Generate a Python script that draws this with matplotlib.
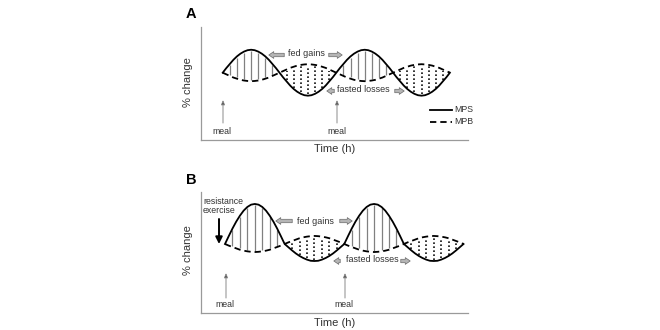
import numpy as np
import matplotlib
matplotlib.use('Agg')
import matplotlib.pyplot as plt
from matplotlib.patches import FancyArrowPatch

plt.rcParams['font.family'] = ['Liberation Sans', 'DejaVu Sans']

W, H = 660, 330

# time grid (arbitrary units, 16 units = one meal cycle)
time_h = np.arange(0, 32.5, 0.5)

# Panel A: muscle protein synthesis / breakdown (% change, schematic)
mps_a = [0, 2.0, 3.8, 5.6, 7.1, 8.3, 9.2, 9.8, 10, 9.8, 9.2, 8.3, 7.1, 5.6, 3.8, 2.0,
         0, -2.0, -3.8, -5.6, -7.1, -8.3, -9.2, -9.8, -10, -9.8, -9.2, -8.3, -7.1, -5.6, -3.8, -2.0,
         0, 2.0, 3.8, 5.6, 7.1, 8.3, 9.2, 9.8, 10, 9.8, 9.2, 8.3, 7.1, 5.6, 3.8, 2.0,
         0, -2.0, -3.8, -5.6, -7.1, -8.3, -9.2, -9.8, -10, -9.8, -9.2, -8.3, -7.1, -5.6, -3.8, -2.0,
         0]
mpb_a = [0, -0.7, -1.4, -2.1, -2.6, -3.1, -3.4, -3.6, -3.7, -3.6, -3.4, -3.1, -2.6, -2.1, -1.4, -0.7,
         0, 0.7, 1.4, 2.1, 2.6, 3.1, 3.4, 3.6, 3.7, 3.6, 3.4, 3.1, 2.6, 2.1, 1.4, 0.7,
         0, -0.7, -1.4, -2.1, -2.6, -3.1, -3.4, -3.6, -3.7, -3.6, -3.4, -3.1, -2.6, -2.1, -1.4, -0.7,
         0, 0.7, 1.4, 2.1, 2.6, 3.1, 3.4, 3.6, 3.7, 3.6, 3.4, 3.1, 2.6, 2.1, 1.4, 0.7,
         0]

# Panel B: with resistance exercise
mps_b = [0, 3.4, 6.7, 9.7, 12.3, 14.5, 16.1, 17.1, 17.4, 17.1, 16.1, 14.5, 12.3, 9.7, 6.7, 3.4,
         0, -1.4, -2.8, -4.1, -5.2, -6.1, -6.8, -7.3, -7.4, -7.3, -6.8, -6.1, -5.2, -4.1, -2.8, -1.4,
         0, 3.4, 6.7, 9.7, 12.3, 14.5, 16.1, 17.1, 17.4, 17.1, 16.1, 14.5, 12.3, 9.7, 6.7, 3.4,
         0, -1.4, -2.8, -4.1, -5.2, -6.1, -6.8, -7.3, -7.4, -7.3, -6.8, -6.1, -5.2, -4.1, -2.8, -1.4,
         0]
mpb_b = [0, -0.7, -1.3, -1.9, -2.5, -2.9, -3.2, -3.4, -3.5, -3.4, -3.2, -2.9, -2.5, -1.9, -1.3, -0.7,
         0, 0.7, 1.3, 1.9, 2.5, 2.9, 3.2, 3.4, 3.5, 3.4, 3.2, 2.9, 2.5, 1.9, 1.3, 0.7,
         0, -0.7, -1.3, -1.9, -2.5, -2.9, -3.2, -3.4, -3.5, -3.4, -3.2, -2.9, -2.5, -1.9, -1.3, -0.7,
         0, 0.7, 1.3, 1.9, 2.5, 2.9, 3.2, 3.4, 3.5, 3.4, 3.2, 2.9, 2.5, 1.9, 1.3, 0.7,
         0]

gain_hatch_t = [1, 2, 3, 4, 5, 6, 7, 17, 18, 19, 20, 21, 22, 23]
loss_hatch_t = [9, 10, 11, 12, 13, 14, 15, 25, 26, 27, 28, 29, 30, 31]

panel_labels = ['A', 'B']
legend_labels = ['MPS', 'MPB']
x_label = 'Time (h)'
y_label = '% change'

fig = plt.figure(figsize=(6.6, 3.3), dpi=100)
TXT = '#333333'


def fpt(px, py):
    return (px / W, 1 - py / H)


def make_axes(left, top, right, bottom, xlim, ylim):
    ax = fig.add_axes([left / W, 1 - bottom / H, (right - left) / W, (bottom - top) / H])
    for s in ['top', 'right']:
        ax.spines[s].set_visible(False)
    for s in ['left', 'bottom']:
        ax.spines[s].set_color('#9a9a9a')
        ax.spines[s].set_linewidth(0.9)
    ax.set_xticks([])
    ax.set_yticks([])
    ax.set_xlim(*xlim)
    ax.set_ylim(*ylim)
    ax.patch.set_alpha(0)
    return ax


def draw_curves(ax, mps, mpb):
    t2i = {float(t): i for i, t in enumerate(time_h)}
    g = 0.6
    for t in gain_hatch_t:
        i = t2i[float(t)]
        ax.vlines(t, mpb[i] + g, mps[i] - g, color='#808080', lw=0.9)
    for t in loss_hatch_t:
        i = t2i[float(t)]
        ax.vlines(t, mps[i] + g, mpb[i] - g, color='#111111', lw=1.2,
                  linestyles=[(0, (1, 1.4))])
    ax.plot(time_h, mps, color='black', lw=1.3, solid_joinstyle='round')
    ax.plot(time_h, mpb, color='black', lw=1.3, linestyle=(0, (3.5, 2.2)))


def block_arrow(x0, x1, y):
    p = FancyArrowPatch(fpt(x0, y), fpt(x1, y), transform=fig.transFigure,
                        arrowstyle='simple,head_length=0.55,head_width=0.75,tail_width=0.38',
                        mutation_scale=6.5, fc='#b5b5b5', ec='#6a6a6a', lw=0.5)
    fig.add_artist(p)


def meal_arrow(x, y0, y1):
    p = FancyArrowPatch(fpt(x, y0), fpt(x, y1), transform=fig.transFigure,
                        arrowstyle='-|>,head_length=2.6,head_width=1.1',
                        mutation_scale=1, fc='#222222', ec='#8a8a8a', lw=0.7,
                        shrinkA=0, shrinkB=0)
    fig.add_artist(p)


def ftext(px, py, s, size, **kw):
    kw.setdefault('ha', 'center')
    kw.setdefault('va', 'center')
    fig.text(*fpt(px, py), s, fontsize=size, color=kw.pop('color', TXT), **kw)


# ---------------- Panel A ----------------
axA = make_axes(201, 27, 468, 140, (-3.06, 34.55), (-29.3, 19.9))
draw_curves(axA, mps_a, mpb_a)
ftext(191, 14, panel_labels[0], 10.5, weight='bold', color='black')
ftext(188, 82, y_label, 8, rotation=90)
ftext(335, 149, x_label, 8)
block_arrow(287, 266, 55)
ftext(306, 54, 'fed gains', 6.5)
block_arrow(326, 345, 55)
block_arrow(337, 324, 91)
ftext(363, 90, 'fasted losses', 6.5)
block_arrow(392, 407, 91)
meal_arrow(223, 123, 100)
meal_arrow(337, 123, 100)
ftext(222, 131, 'meal', 6.3)
ftext(337, 131, 'meal', 6.3)
# legend
axA.plot([], [])
fig.add_artist(plt.Line2D([430 / W, 452 / W], [1 - 109.5 / H] * 2, color='black', lw=1.3,
                          transform=fig.transFigure))
fig.add_artist(plt.Line2D([430 / W, 452 / W], [1 - 121.5 / H] * 2, color='black', lw=1.3,
                          linestyle=(0, (3.5, 2.2)), transform=fig.transFigure))
ftext(454, 109.5, legend_labels[0], 6.3, ha='left')
ftext(454, 121.5, legend_labels[1], 6.3, ha='left')

# ---------------- Panel B ----------------
axB = make_axes(201, 192, 468, 313, (-3.22, 32.6), (-30.0, 22.6))
draw_curves(axB, mps_b, mpb_b)
ftext(191, 180, panel_labels[1], 10.5, weight='bold', color='black')
ftext(188, 250, y_label, 8, rotation=90)
ftext(335, 323, x_label, 8)
block_arrow(295, 273, 221)
ftext(315, 221, 'fed gains', 6.5)
block_arrow(337, 355, 221)
block_arrow(343, 331, 261)
ftext(372, 260, 'fasted losses', 6.5)
block_arrow(398, 413, 261)
meal_arrow(226, 298, 273)
meal_arrow(345, 298, 273)
ftext(225, 304.5, 'meal', 6.3)
ftext(344, 304.5, 'meal', 6.3)
ftext(203, 206, 'resistance\nexercise', 6.3, ha='left', linespacing=0.9)
fig.add_artist(FancyArrowPatch(fpt(219, 219), fpt(219, 244), transform=fig.transFigure,
                               arrowstyle='-|>,head_length=4,head_width=2',
                               mutation_scale=1, color='black', lw=1.4,
                               shrinkA=0, shrinkB=0))

fig.savefig('out.png', dpi=100, facecolor='white')
